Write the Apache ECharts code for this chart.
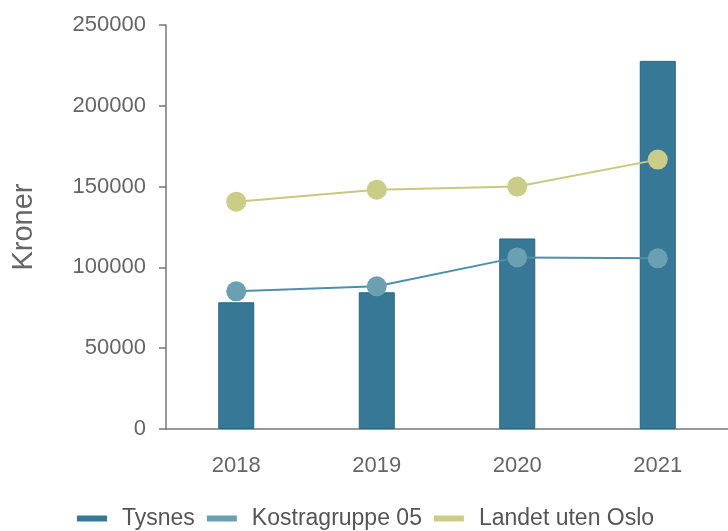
<!DOCTYPE html>
<html>
<head>
<meta charset="utf-8">
<script src="https://cdn.jsdelivr.net/npm/echarts@6/dist/echarts.min.js"></script>
<style>
html, body { margin: 0; padding: 0; background: #fff; }
#chart { width: 728px; height: 531px; }
</style>
</head>
<body>
<div id="chart"></div>
<script>
var years = ['2018', '2019', '2020', '2021'];
var tysnes = [78400, 84600, 117900, 227800];
var kostra = [85200, 88300, 106200, 105600];
var landet = [140700, 148100, 150000, 166700];

var dom = document.getElementById("chart");
var myChart = echarts.init(dom);

var option = {
    animation: false,
    textStyle: { fontFamily: 'Liberation Sans' },
    grid: { left: 166, right: -2, top: 25, bottom: 102 },
    legend: {
        bottom: 1,
        left: 77,
        padding: 0,
        itemGap: 12,
        itemWidth: 30,
        itemHeight: 6,
        icon: 'rect',
        itemStyle: { borderWidth: 0 },
        textStyle: { fontSize: 23, color: '#555', padding: [0, 0, 0, 10] },
        data: ['Tysnes', 'Kostragruppe 05', 'Landet uten Oslo']
    },
    xAxis: {
        type: 'category',
        data: years,
        axisLine: { lineStyle: { color: '#777', width: 1.5 } },
        axisTick: { length: 8, lineStyle: { color: '#777', width: 1.5 } },
        axisLabel: { fontSize: 22, color: '#666', margin: 26 }
    },
    yAxis: {
        type: 'value',
        min: 0,
        max: 250000,
        interval: 50000,
        name: 'Kroner',
        nameLocation: 'middle',
        nameGap: 128,
        nameTextStyle: { fontSize: 29, color: '#666' },
        axisLine: { show: true, lineStyle: { color: '#777', width: 1.5 } },
        axisTick: { show: true, length: 7, lineStyle: { color: '#777', width: 1.5 } },
        splitLine: { show: false },
        axisLabel: { fontSize: 22, color: '#666', margin: 20, formatter: function (v) { return String(v); } }
    },
    series: [
        {
            name: 'Tysnes',
            type: 'bar',
            data: tysnes,
            barWidth: 36,
            itemStyle: { color: '#367895', borderColor: '#2a6580', borderWidth: 1 }
        },
        {
            name: 'Kostragruppe 05',
            type: 'line',
            data: kostra,
            symbol: 'circle',
            symbolSize: 20,
            lineStyle: { color: '#4f8fa8', width: 2 },
            itemStyle: { color: '#6b9fb2' }
        },
        {
            name: 'Landet uten Oslo',
            type: 'line',
            data: landet,
            symbol: 'circle',
            symbolSize: 20,
            lineStyle: { color: '#c9c87f', width: 2 },
            itemStyle: { color: '#cccc89' }
        }
    ]
};
myChart.setOption(option, true);
</script>
</body>
</html>
